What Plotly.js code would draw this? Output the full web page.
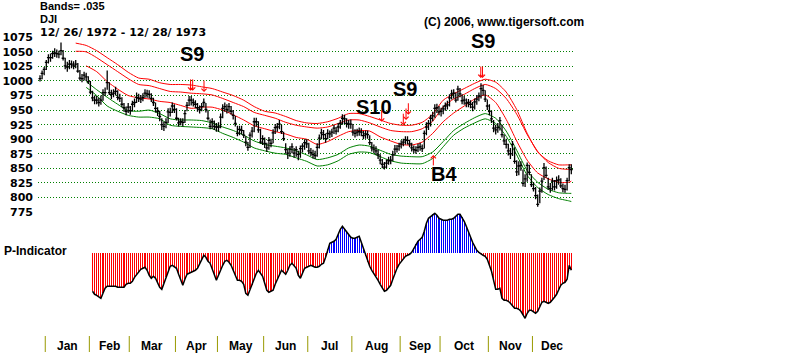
<!DOCTYPE html>
<html><head><meta charset="utf-8">
<script src="https://cdn.plot.ly/plotly-3.0.1.min.js"></script>
<style>html,body{margin:0;padding:0;background:#fff}#chart{width:800px;height:356px}</style>
</head><body><div id="chart"></div>
<script>
// Trading-day bars, index 0 = 12/26/1972 ... 253 = 12/28/1973
const highs = [
1010,1018,1024,
1036,1046,1047,1052,1056,1054,1052,1066,1053,1040,1033,1036,1035,1034,1036,1031,1019,1012,1016,1014,1008,
1000,983,975,974,971,975,986,989,1018,998,985,986,990,984,978,972,962,956,962,
957,966,970,980,978,976,979,986,985,984,979,971,963,955,949,936,930,936,953,954,963,960,
953,937,936,936,950,964,974,974,970,967,962,958,962,970,962,950,934,936,932,928,
929,944,960,963,960,962,957,950,940,923,923,923,916,905,895,912,921,937,937,931,918,907,
903,894,904,901,917,926,928,933,925,913,893,883,888,893,885,888,880,889,893,900,900,
894,885,882,880,893,908,918,916,910,917,915,918,925,921,928,933,943,942,936,933,934,
926,917,918,920,919,914,915,915,907,895,891,888,882,874,866,861,865,870,871,880,890,890,894,
898,901,905,905,899,894,889,888,892,894,891,915,929,933,942,947,960,961,957,
954,958,963,966,977,985,986,980,992,988,977,974,970,969,967,964,970,976,980,996,993,984,968,
960,949,933,925,928,938,925,908,901,892,885,897,886,864,862,862,848,840,860,856,840,
826,818,805,817,834,859,853,834,825,834,830,836,838,833,824,822,834,857,857];
const lows = [
999,1003,1010,
1019,1030,1033,1038,1041,1040,1039,1044,1035,1020,1016,1020,1022,1020,1022,1014,1001,998,1001,1000,995,
977,965,960,960,956,959,966,974,985,976,969,972,975,967,964,955,947,941,945,
942,948,955,962,964,962,965,971,971,970,964,957,946,940,931,916,914,919,928,939,945,945,
932,922,924,922,928,948,957,958,956,953,947,944,948,955,946,932,917,918,916,913,
913,919,936,947,944,946,942,934,922,905,907,908,902,888,880,885,903,912,922,911,892,890,
885,878,882,886,893,909,913,917,909,897,875,866,870,876,868,870,864,868,877,882,885,
874,871,867,866,870,884,900,900,894,900,902,904,909,908,912,918,925,926,920,918,918,
906,903,905,906,905,900,901,901,890,879,876,873,866,857,850,848,850,856,857,862,872,877,880,
884,888,891,891,886,879,876,875,878,880,878,884,907,916,922,931,937,945,941,
939,943,949,951,956,968,970,963,966,972,960,959,955,955,953,948,951,959,965,970,975,964,950,
941,928,912,908,911,915,903,890,884,872,866,871,858,837,838,846,819,818,827,838,818,
810,797,784,790,808,830,834,813,808,812,812,815,822,816,809,808,812,828,840];
const closes = [
1004,1013,1020,
1032,1040,1040,1047,1048,1047,1046,1052,1039,1026,1024,1029,1029,1026,1029,1017,1005,1004,1010,1007,999,
981,971,967,967,963,967,980,980,997,980,977,979,982,972,970,960,954,948,955,
949,960,963,972,970,969,972,979,978,977,970,963,953,948,939,925,922,929,947,946,957,951,
936,928,930,929,944,958,967,967,963,960,954,951,956,963,951,936,922,930,922,921,
921,938,953,956,951,956,948,941,927,910,917,915,907,895,886,907,914,930,930,916,895,901,
893,885,898,893,911,920,921,926,913,901,882,876,883,887,876,882,874,884,888,894,892,
880,877,874,872,886,902,911,908,901,910,909,912,919,914,921,927,936,935,927,926,926,
912,910,912,913,912,906,909,908,894,885,883,880,873,864,857,852,859,863,864,873,883,883,888,
892,895,899,898,892,885,882,881,886,887,884,910,921,927,936,940,953,954,947,
948,952,957,959,971,978,979,967,986,978,966,967,962,963,960,955,964,969,974,987,984,969,957,
948,935,919,916,920,932,908,897,891,880,875,891,862,844,854,855,824,832,855,843,822,
815,803,788,811,828,851,838,818,815,828,818,829,830,820,815,814,829,851,848];

// Band lines, read at every 5th trading day
const bandIdx = [17,22,27,32,37,42,47,52,57,62,67,72,77,82,87,92,97,102,107,112,117,122,127,132,137,142,147,152,157,162,167,172,177,182,187,192,197,202,207,212,217,222,227,232,237,242,247,252,253];
const bandRed1 = [1065,1061,1052,1040,1028,1015,1005,1003,997,994,994,993,990,987,981,975,967,956,948,945,939,932,928,927,930,936,944,944,939,933,927,924,924,929,943,967,978,987,996,1003,998,981,951,910,878,863,856,856,856];
const bandRed2 = [1051,1050,1040,1028,1016,1004,994,992,987,982,981,979,978,976,970,963,956,946,941,936,929,924,921,919,921,927,933,933,928,921,915,913,913,918,931,956,969,977,987,994,987,970,943,908,879,860,850,848,848];
const bandRed3 = [null,1026,1016,999,986,975,971,969,965,963,958,953,955,955,950,942,933,923,918,913,909,903,900,891,896,905,913,915,914,904,897,891,890,895,910,930,945,957,969,976,963,934,897,864,842,832,826,826,828];
const bandGreen1 = [null,999,985,972,960,949,948,950,944,935,933,933,932,928,921,915,907,897,891,888,885,880,873,865,868,874,885,890,888,881,874,871,870,870,878,896,915,927,937,944,936,914,881,846,826,814,808,807,807];
const bandGreen2 = [null,989,975,957,948,941,938,938,935,924,922,921,920,918,910,903,895,885,880,876,874,868,862,854,856,863,874,878,877,870,863,859,858,858,867,887,907,919,928,935,927,905,873,838,817,805,798,794,793];

// P-Indicator, one value per trading day from index 25 to 253
const pStartIdx = 25;
const pValues = [
-38,-41,-42,-44,-45,-40,-35,-33,-33,-33,
-33,-33,-34,-34,-34,-34,-31,-30,-30,-28,
-24,-21,-19,-16,-15,-14,-17,-22,-25,-23,
-25,-30,-34,-36,-30,-24,-18,-13,-12,-14,
-15,-21,-27,-32,-26,-21,-20,-19,-18,-17,
-15,-11,-6,-2,-4,-8,-10,-16,-22,-27,
-22,-16,-12,-8,-7,-9,-12,-17,-23,-27,
-27,-28,-31,-40,-42,-36,-32,-26,-20,-17,
-20,-23,-30,-37,-39,-38,-37,-31,-26,-21,
-17,-19,-21,-17,-12,-10,-13,-15,-22,-25,
-20,-15,-14,-13,-12,-13,-14,-14,-13,-11,
-10,-4,4,10,11,12,14,19,24,27,
24,21,19,16,15,15,16,17,11,5,
-3,-9,-13,-17,-20,-23,-27,-31,-35,-38,
-37,-35,-32,-26,-20,-15,-11,-8,-5,-3,
-2,-1,1,5,9,12,14,16,22,30,
35,37,39,40,38,35,34,33,33,33,
34,34,35,37,39,39,36,32,27,21,
16,11,7,3,1,-1,-2,-3,-6,-12,
-18,-27,-36,-36,-35,-45,-47,-47,-48,-50,
-53,-55,-55,-56,-58,-62,-65,-60,-57,-57,
-59,-60,-58,-53,-49,-48,-49,-50,-49,-47,
-44,-41,-36,-32,-30,-29,-26,-12,-17];

const monthNames = ['Jan','Feb','Mar','Apr','May','Jun','Jul','Aug','Sep','Oct','Nov','Dec'];
const monthStartIdx = [3,24,43,65,85,107,128,149,172,191,214,235];
const lastIdx = 253;

const priceTicks = [775,800,825,850,875,900,925,950,975,1000,1025,1050,1075];

const signalText = ['S9','S10','S9','S9','B4'];
const signalTextIdx = [72.6,158.9,173.8,211.1,192.5];
const signalTextPrice = [1046,955,986,1069,840];

const arrowIdx = [71.7,72.7,78.1,162.7,173.0,174.3,175.4,209.9,210.7,187.3];
const arrowPrice = [983,983,981,930,924,933,942,1005,1005,873];
const arrowDir = ['down','down','down','down','down','down','down','down','down','up'];

// ---- build traces ----
const bx = [], by = [];
for (let i = 0; i < closes.length; i++) {
  bx.push(i, i, null, i - 0.7, i + 0.7, null);
  by.push(lows[i], highs[i], null, closes[i], closes[i], null);
}
const pIdx = pValues.map((v, k) => pStartIdx + k);
const pColors = pValues.map(v => v < 0 ? '#ff0000' : '#0000ff');

function bandTrace(vals, color) {
  return {type: 'scatter', mode: 'lines', x: bandIdx, y: vals, xaxis: 'x', yaxis: 'y',
    line: {color: color, width: 1, shape: 'spline', smoothing: 0.6}, connectgaps: false, hoverinfo: 'skip'};
}

const traces = [
  bandTrace(bandRed1, '#ff0000'),
  bandTrace(bandRed2, '#ff0000'),
  bandTrace(bandRed3, '#ff0000'),
  bandTrace(bandGreen1, '#008000'),
  bandTrace(bandGreen2, '#008000'),
  {type: 'scatter', mode: 'lines', x: bx, y: by, xaxis: 'x', yaxis: 'y',
   line: {color: '#000000', width: 1.3}, connectgaps: false, hoverinfo: 'skip'},
  {type: 'bar', x: pIdx, y: pValues, xaxis: 'x', yaxis: 'y2', width: 0.5,
   marker: {color: pColors, line: {width: 0}}, hoverinfo: 'skip'},
  {type: 'scatter', mode: 'lines', x: pIdx, y: pValues, xaxis: 'x', yaxis: 'y2',
   line: {color: '#000000', width: 1.5}, hoverinfo: 'skip'}
];

const W = 800, H = 356;
const py = px => (H - px) / H;
const boldFont = {family: 'Liberation Sans, Arial, sans-serif', size: 12, color: '#000', weight: 'bold'};
const headFont = {family: 'Liberation Sans, Arial, sans-serif', size: 11, color: '#000', weight: 'bold'};

const annotations = [
  {text: 'Bands= .035', x: 38 / W, y: py(6), xref: 'paper', yref: 'paper', xanchor: 'left', yanchor: 'middle', showarrow: false, font: headFont},
  {text: 'DJI', x: 38 / W, y: py(19), xref: 'paper', yref: 'paper', xanchor: 'left', yanchor: 'middle', showarrow: false, font: headFont},
  {text: '12/ 26/ 1972 - 12/ 28/ 1973', x: 38 / W, y: py(32), xref: 'paper', yref: 'paper', xanchor: 'left', yanchor: 'middle', showarrow: false,
   font: {family: 'DejaVu Sans, sans-serif', size: 11, color: '#000', weight: 'bold'}},
  {text: '(C) 2006, www.tigersoft.com', x: 422 / W, y: py(21.5), xref: 'paper', yref: 'paper', xanchor: 'left', yanchor: 'middle', showarrow: false, font: boldFont},
  {text: 'P-Indicator', x: 2 / W, y: py(251), xref: 'paper', yref: 'paper', xanchor: 'left', yanchor: 'middle', showarrow: false, font: boldFont}
];
for (let k = 0; k < monthNames.length; k++) {
  const a = monthStartIdx[k] - 0.5;
  const b = (k + 1 < monthStartIdx.length ? monthStartIdx[k + 1] : lastIdx + 1) - 0.5;
  annotations.push({text: monthNames[k], x: (a + b) / 2, y: py(346), xref: 'x', yref: 'paper',
    xanchor: 'center', yanchor: 'middle', showarrow: false, font: boldFont});
}
for (let k = 0; k < signalText.length; k++) {
  annotations.push({text: signalText[k], x: signalTextIdx[k], y: signalTextPrice[k], xref: 'x', yref: 'y',
    xanchor: 'center', yanchor: 'middle', showarrow: false,
    font: {family: 'Liberation Sans, Arial, sans-serif', size: 20, color: '#000', weight: 'bold'}});
}
for (let k = 0; k < arrowIdx.length; k++) {
  annotations.push({text: '', x: arrowIdx[k], y: arrowPrice[k], xref: 'x', yref: 'y',
    showarrow: true, arrowhead: 4, arrowsize: 1, arrowwidth: 1, arrowcolor: '#ff0000',
    ax: 0, ay: arrowDir[k] === 'down' ? -13 : 12, standoff: 0, startstandoff: 0});
}

const shapes = monthStartIdx.map(m => ({type: 'line', xref: 'x', yref: 'paper',
  x0: m - 0.5, x1: m - 0.5, y0: py(352), y1: py(336), line: {color: '#999900', width: 1}}));

const pxPerDay = 2.1;
const layout = {
  width: W, height: H, margin: {l: 0, r: 0, t: 0, b: 0},
  paper_bgcolor: '#ffffff', plot_bgcolor: 'rgba(0,0,0,0)', showlegend: false,
  xaxis: {domain: [38 / W, 573 / W], range: [-2 / pxPerDay, -2 / pxPerDay + 535 / pxPerDay],
    showgrid: false, zeroline: false, showticklabels: false, ticks: '', showline: false, anchor: 'y2'},
  yaxis: {domain: [py(212), py(37.3)], range: [775, 1075], tickvals: priceTicks, ticktext: priceTicks.map(String),
    showgrid: true, gridcolor: '#008000', gridwidth: 1, griddash: '1px,2px', zeroline: false, showline: false,
    ticks: '', ticklabelstandoff: 4,
    tickfont: {family: 'DejaVu Sans, sans-serif', size: 11, color: '#000', weight: 'bold'}, anchor: 'x'},
  yaxis2: {domain: [py(323.3), py(212.3)], range: [-70, 41], showgrid: false, zeroline: false,
    showticklabels: false, ticks: '', showline: false, anchor: 'x'},
  annotations: annotations, shapes: shapes, bargap: 0
};

Plotly.newPlot('chart', traces, layout, {staticPlot: true, displayModeBar: false});
</script></body></html>
